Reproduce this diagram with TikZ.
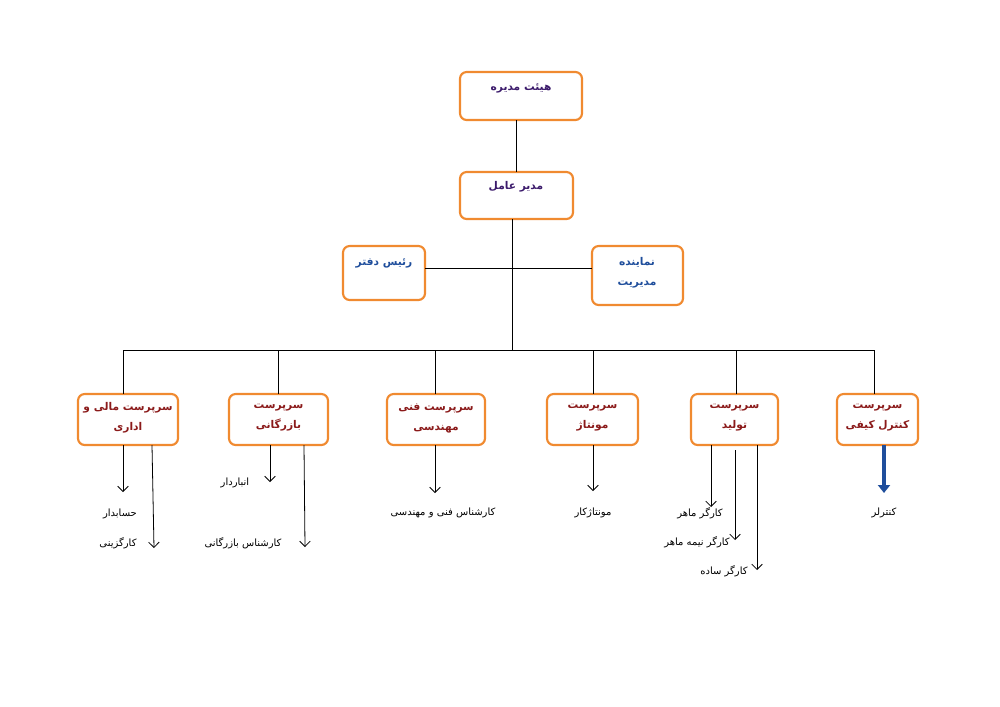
\documentclass[tikz,border=0pt]{standalone}
\usepackage{fontspec}
\newfontfamily\ar[Script=Arabic]{DejaVu Sans}
\TeXXeTstate=1
\usetikzlibrary{arrows.meta}
\definecolor{orng}{HTML}{F08A30}
\definecolor{purp}{HTML}{3B1A6B}
\definecolor{blu}{HTML}{1F4E9C}
\definecolor{dred}{HTML}{8B1A1A}
\newcommand{\R}[1]{\beginR #1\endR}
\tikzset{
 boxx/.style={draw=orng,line width=1.6pt,rounded corners=5pt,fill=white},
 btxt/.style={font=\ar\bfseries\fontsize{8}{15}\selectfont,align=center},
 leaf/.style={font=\ar\fontsize{7.5}{9}\selectfont},
 arr/.style={-{Straight Barb[length=4pt,width=8pt]},line width=0.6pt},
 ln/.style={line width=0.7pt}
}
\begin{document}
\begin{tikzpicture}[x=0.75pt,y=-0.75pt]
\useasboundingbox (0,0) rectangle (1000,707);
% boxes
\draw[boxx] (460,72) rectangle (582,120); \node[btxt,text=purp] (t1) at (521,88) {\R{هیئت مدیره}};
\draw[boxx] (460,172) rectangle (573,219); \node[btxt,text=purp] (t2) at (516,187) {\R{مدیر عامل}};
\draw[boxx] (343,246) rectangle (425,300); \node[btxt,text=blu] (t3) at (384,263) {\R{رئیس دفتر}};
\draw[boxx] (592,246) rectangle (683,305); \node[btxt,text=blu] (t4) at (637,273) {\R{نماینده}\\\R{مدیریت}};
\foreach \xa/\xb/\nm/\tx in {78/178/b1/{\R{سرپرست مالی و}\\\R{اداری}},229/328/b2/{\R{سرپرست}\\\R{بازرگانی}},387/485/b3/{\R{سرپرست فنی}\\\R{مهندسی}},547/638/b4/{\R{سرپرست}\\\R{مونتاژ}},691/778/b5/{\R{سرپرست}\\\R{تولید}},837/918/b6/{\R{سرپرست}\\\R{کنترل کیفی}}}{
 \draw[boxx] (\xa,394) rectangle (\xb,445);
 \node[btxt,text=dred] (\nm) at ({(\xa+\xb)/2},418) {\tx};
}
% connectors
\coordinate (c1) at (516,120); \coordinate (c2) at (516,172);
\draw[ln] (c1) -- (c2);
\draw[ln] (512,219) -- (512,350);
\draw[ln] (425,268) -- (592,268);
\draw[ln] (123,350) -- (874,350);
\foreach \x in {123,278,435,593,736,874} \draw[ln] (\x,350) -- (\x,394);
% arrows
\draw[arr] (123,445) -- (123,492);
\draw[arr] (152,445) -- (154,548);
\draw[arr] (270,445) -- (270,482);
\draw[arr] (304,445) -- (305,547);
\draw[arr] (435,445) -- (435,493);
\draw[arr] (593,445) -- (593,491);
\draw[arr] (711,445) -- (711,507);
\draw[arr] (735,450) -- (735,540);
\draw[arr] (757,445) -- (757,570);
\draw[-{Triangle[length=6pt,width=9pt]},line width=3pt,draw=blu,fill=blu] (884,445) -- (884,493);
% leaves
\node[leaf] (l1) at (120,514) {\R{حسابدار}};
\node[leaf] (l2) at (118,543) {\R{کارگزینی}};
\node[leaf] (l3) at (235,483) {\R{انباردار}};
\node[leaf] (l4) at (243,543) {\R{کارشناس بازرگانی}};
\node[leaf] (l5) at (443,513) {\R{کارشناس فنی و مهندسی}};
\node[leaf] (l6) at (593,513) {\R{مونتاژکار}};
\node[leaf] (l7) at (700,513) {\R{کارگر ماهر}};
\node[leaf] (l8) at (697,542) {\R{کارگر نیمه ماهر}};
\node[leaf] (l9) at (724,571) {\R{کارگر ساده}};
\node[leaf] (l10) at (884,513) {\R{کنترلر}};
\end{tikzpicture}
\end{document}
